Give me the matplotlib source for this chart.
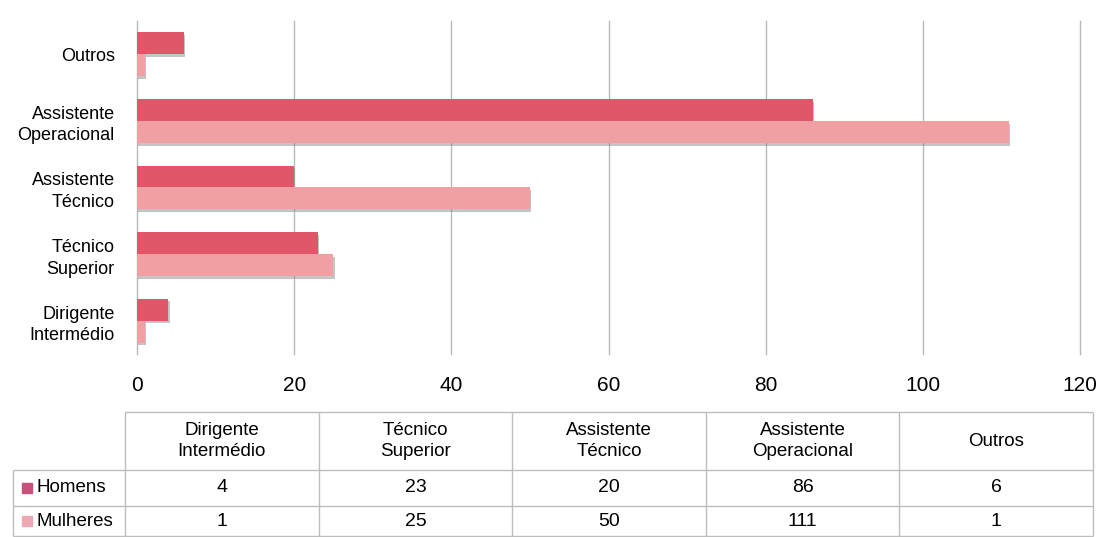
import numpy as np
import matplotlib
matplotlib.use('Agg')
import matplotlib.pyplot as plt
import matplotlib.patheffects as pe

# categories, bottom to top on the chart (left to right in the table)
categories = ['Dirigente\nIntermédio', 'Técnico\nSuperior', 'Assistente\nTécnico',
              'Assistente\nOperacional', 'Outros']
homens = [4, 23, 20, 86, 6]
mulheres = [1, 25, 50, 111, 1]
series_names = ['Homens', 'Mulheres']
xticks = [0, 20, 40, 60, 80, 100, 120]

c_homens = '#E2566A'
c_mulheres = '#F0A0A2'
key_homens = '#C9507C'
key_mulheres = '#EDA9B3'

plt.rcParams['font.family'] = ['Liberation Sans Narrow', 'Liberation Sans', 'DejaVu Sans']

W, H = 1098, 537
fig = plt.figure(figsize=(W / 100, H / 100), dpi=100)

# plot area in pixels
left, right, top, bottom = 137, 1080, 21, 354
ax = fig.add_axes([left / W, 1 - bottom / H, (right - left) / W, (bottom - top) / H])

y = np.arange(len(categories))
bh = 0.33
shadow = [pe.SimplePatchShadow(offset=(0.8, -2), shadow_rgbFace='#808080', alpha=0.45), pe.Normal()]
b1 = ax.barh(y + bh / 2, homens, height=bh, color=c_homens, zorder=3)
b2 = ax.barh(y - bh / 2, mulheres, height=bh, color=c_mulheres, zorder=3)
for b in list(b1) + list(b2):
    b.set_path_effects(shadow)

ax.set_xlim(0, 120)
ax.set_ylim(-0.5, len(categories) - 0.5)
ax.set_xticks(xticks)
ax.set_xticklabels([str(t) for t in xticks], fontsize=15)
ax.set_yticks(y)
ax.set_yticklabels(categories, fontsize=13, linespacing=1.35)
ax.tick_params(axis='both', length=0)
ax.tick_params(axis='x', pad=16)
ax.tick_params(axis='y', pad=16)
ax.grid(axis='x', color='#B8B8B8', linewidth=1, zorder=0)
for gl in ax.get_xgridlines():
    gl.set_clip_on(False)
for s in ax.spines.values():
    s.set_visible(False)

# data table under the chart, laid out in pixel coordinates
tab = fig.add_axes([0, 0, 1, 1])
tab.set_xlim(0, W)
tab.set_ylim(H, 0)
tab.axis('off')

col_edges = np.linspace(125, 1093, len(categories) + 1)
row_edges = [412, 470, 506, 536]
label_left = 13
lc = '#BDBDBD'

tab.hlines(row_edges[0], col_edges[0], col_edges[-1], color=lc, lw=1)
for r in row_edges[1:]:
    tab.hlines(r, label_left, col_edges[-1], color=lc, lw=1)
for cx in col_edges:
    tab.vlines(cx, row_edges[0], row_edges[-1], color=lc, lw=1)
tab.vlines(label_left, row_edges[1], row_edges[-1], color=lc, lw=1)

for i, name in enumerate(categories):
    cx = (col_edges[i] + col_edges[i + 1]) / 2
    tab.text(cx, (row_edges[0] + row_edges[1]) / 2, name, ha='center', va='center',
             fontsize=13.5, linespacing=1.3)

rows = [homens, mulheres]
keys = [key_homens, key_mulheres]
for j, (vals, nm, kc) in enumerate(zip(rows, series_names, keys)):
    cy = (row_edges[j + 1] + row_edges[j + 2]) / 2
    tab.add_patch(plt.Rectangle((22, cy - 5), 10, 10, color=kc))
    tab.text(36, cy, nm, ha='left', va='center', fontsize=13.5)
    for i, v in enumerate(vals):
        cx = (col_edges[i] + col_edges[i + 1]) / 2
        tab.text(cx, cy, str(v), ha='center', va='center', fontsize=14)

fig.savefig('out.png', dpi=100, facecolor='white')
